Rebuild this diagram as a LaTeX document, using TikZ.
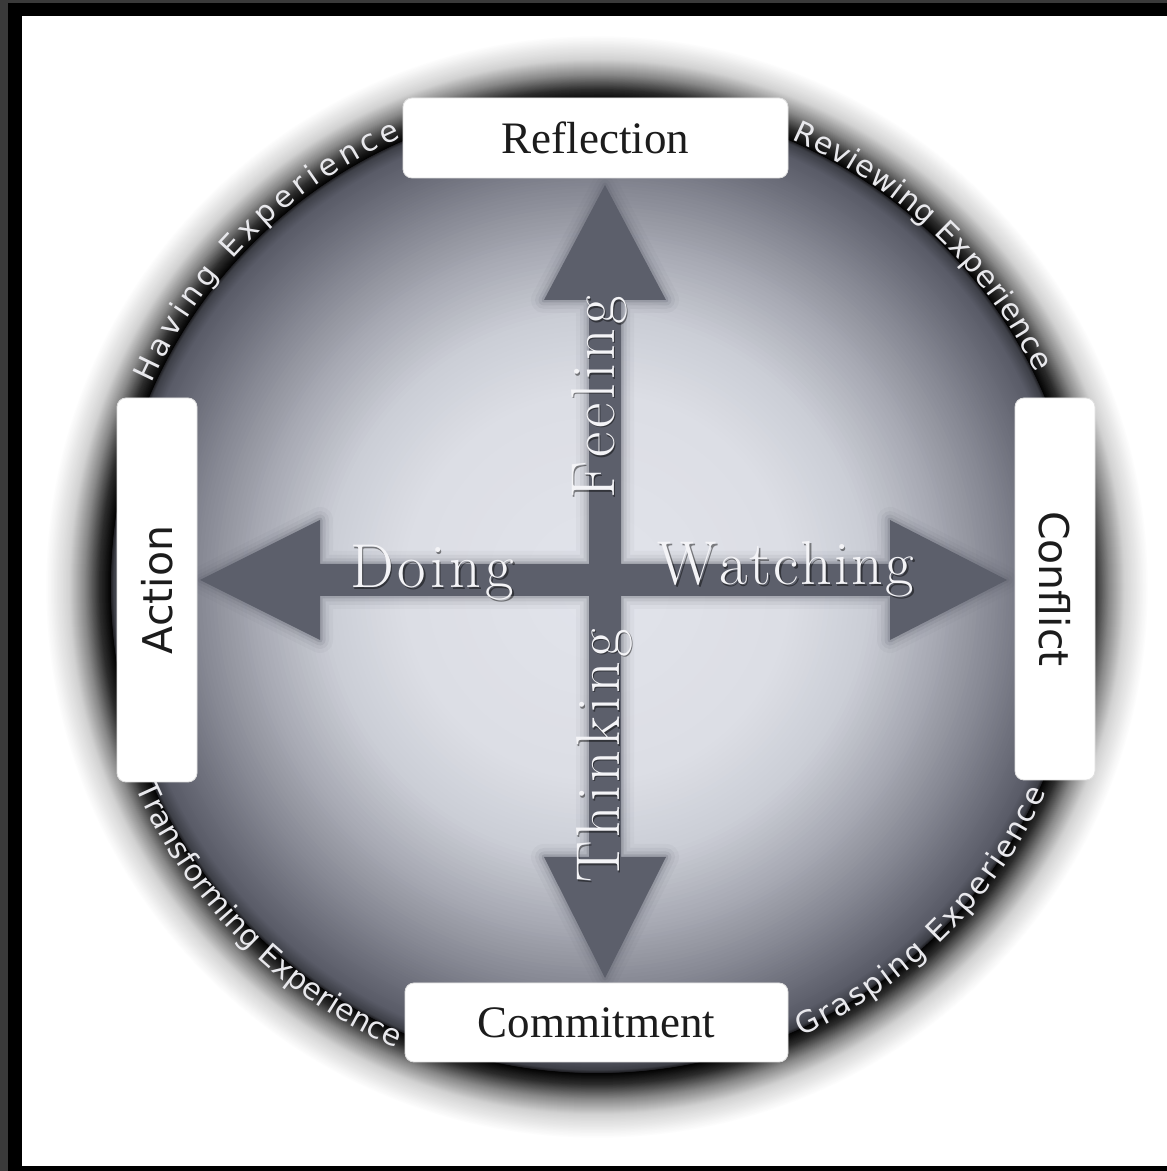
\documentclass[tikz,border=0pt]{standalone}
\usepackage{fontspec}
\newfontfamily\boxserif{Liberation Serif}
\newfontfamily\boxsans{DejaVu Sans}
\usetikzlibrary{calc,decorations.text}
\definecolor{framegray}{HTML}{3A3A3A}
\definecolor{diskA}{HTML}{E2E4EB}
\definecolor{diskB}{HTML}{DCDEE5}
\definecolor{diskC}{HTML}{CBCED6}
\definecolor{diskD}{HTML}{A9ABB5}
\definecolor{diskE}{HTML}{878994}
\definecolor{diskF}{HTML}{6C6E7A}
\definecolor{diskG}{HTML}{5A5C68}
\definecolor{diskH}{HTML}{3E4048}
\definecolor{diskI}{HTML}{1E1E22}
\colorlet{glowA}{black!18}
\colorlet{glowB}{black!48}
\colorlet{glowC}{black!82}
\definecolor{arrowc}{HTML}{5C5F6B}
\definecolor{arrowtxt}{HTML}{F4F4F7}
\definecolor{boxtxt}{HTML}{1C1C1C}
\definecolor{arctxt}{HTML}{E8E8EC}
\newcommand\boxfont{\boxserif\fontsize{45}{45}\selectfont}
\newcommand\sideboxfont{\boxsans\fontsize{41}{41}\selectfont}
\newcommand\arrowfont{\fontsize{62}{62}\selectfont}
\newcommand\arcfont{\boxsans\fontsize{30}{30}\selectfont}
\newcommand\ls{\kern4pt}
\newcommand\lsw{\kern2pt}
\tikzset{
  labelbox/.style={fill=white, draw=black!12, line width=0.8pt, rounded corners=9pt, inner sep=0pt, text=boxtxt},
  arrowtext/.style={font=\arrowfont, text=arrowtxt, inner sep=0pt},
  arrowshadow/.style={font=\arrowfont, text=black, opacity=0.45, inner sep=0pt},
  arclabel/.style={decorate, decoration={text along path, text align={fit to path}, text={|\arcfont\color{arctxt}|#1}}}
}
\begin{document}
\begin{tikzpicture}[x=1pt,y=1pt]
\useasboundingbox (0,0) rectangle (1167,1171);
% frame
\fill[black] (0,0) rectangle (1167,1171);
\fill[framegray] (0,0) rectangle (8,1171);
\fill[framegray] (0,1168) rectangle (1167,1171);
\fill[white] (22,5) rectangle (1167,1155);
% glow and disk as concentric bands
\coordinate (C) at (597,584);
\foreach \ro/\ri/\co/\ci in {552/528/white/glowA, 528/512/glowA/glowB, 512/498/glowB/glowC, 498/486/glowC/black,
    486/483/diskI/diskH, 483/471/diskH/diskG, 471/442/diskG/diskF, 442/399/diskF/diskE,
    399/340/diskE/diskD, 340/272/diskD/diskC, 272/194/diskC/diskB, 194/0/diskB/diskA} {
  \foreach \k in {0,...,15} {
    \pgfmathsetmacro\rr{\ro-(\ro-\ri)*\k/16}
    \pgfmathtruncatemacro\pp{100*\k/16}
    \fill[fill={\ci!\pp!\co}] (C) circle (\rr);
  }
}
% cross of arrows (soft edge)
\foreach \w/\o in {26/0.05, 18/0.08, 11/0.12, 5/0.22} {
  \draw[arrowc, line width=\w pt, opacity=\o, line join=round]
    (605,986) -- (666,871) -- (621,871) -- (621,607) -- (890,607) -- (890,651) -- (1007,591) -- (890,531) -- (890,575) -- (621,575) -- (621,314) -- (666,314) -- (605,193) -- (544,314) -- (589,314) -- (589,575) -- (320,575) -- (320,531) -- (200,591) -- (320,651) -- (320,607) -- (589,607) -- (589,871) -- (544,871) -- cycle;
}
\fill[arrowc]
    (605,986) -- (666,871) -- (621,871) -- (621,607) -- (890,607) -- (890,651) -- (1007,591) -- (890,531) -- (890,575) -- (621,575) -- (621,314) -- (666,314) -- (605,193) -- (544,314) -- (589,314) -- (589,575) -- (320,575) -- (320,531) -- (200,591) -- (320,651) -- (320,607) -- (589,607) -- (589,871) -- (544,871) -- cycle;
% arrow labels
\node[arrowshadow, anchor=base, rotate=90] (feelingsh) at (615.5,772) {F\ls e\ls e\ls l\ls i\ls n\ls g};
\node[arrowtext, anchor=base, rotate=90] (feeling) at (614,773.5) {F\ls e\ls e\ls l\ls i\ls n\ls g};
\node[arrowshadow, anchor=base, rotate=90] (thinkingsh) at (620.5,413.5) {T\ls h\ls i\ls n\ls k\ls i\ls n\ls g};
\node[arrowtext, anchor=base, rotate=90] (thinking) at (619,415) {T\ls h\ls i\ls n\ls k\ls i\ls n\ls g};
\node[arrowshadow, anchor=base] (doingsh) at (433.5,581.5) {D\ls o\ls i\ls n\ls g};
\node[arrowtext, anchor=base] (doing) at (432,583) {D\ls o\ls i\ls n\ls g};
\node[arrowshadow, anchor=base] (watchingsh) at (787.5,584.5) {W\lsw a\lsw t\lsw c\lsw h\lsw i\lsw n\lsw g};
\node[arrowtext, anchor=base] (watching) at (786,586) {W\lsw a\lsw t\lsw c\lsw h\lsw i\lsw n\lsw g};
% curved labels
\path[arclabel={Having Experience}] ($(C)+(155.5:490)$) arc[start angle=155.5, end angle=113.5, radius=490];
\path[arclabel={Reviewing Experience}] ($(C)+(66.5:488)$) arc[start angle=66.5, end angle=26, radius=488];
\path[arclabel={Transforming Experience}] ($(C)+(203.5:503)$) arc[start angle=203.5, end angle=246.3, radius=503];
\path[arclabel={Grasping Experience}] ($(C)+(294.5:494)$) arc[start angle=294.5, end angle=335.5, radius=494];
% boxes
\node[labelbox, font=\boxfont, minimum width=385pt, minimum height=80pt] (refl) at (595.5,1033) {Reflection};
\node[labelbox, font=\boxfont, minimum width=383pt, minimum height=79pt] (commit) at (596.5,148.5) {Commitment};
\node[labelbox, font=\sideboxfont, rotate=90, minimum width=384pt, minimum height=80pt] (action) at (157,581) {Action};
\node[labelbox, font=\sideboxfont, rotate=-90, minimum width=382pt, minimum height=80pt] (conflict) at (1055,582) {Conflict};
\end{tikzpicture}
\end{document}
